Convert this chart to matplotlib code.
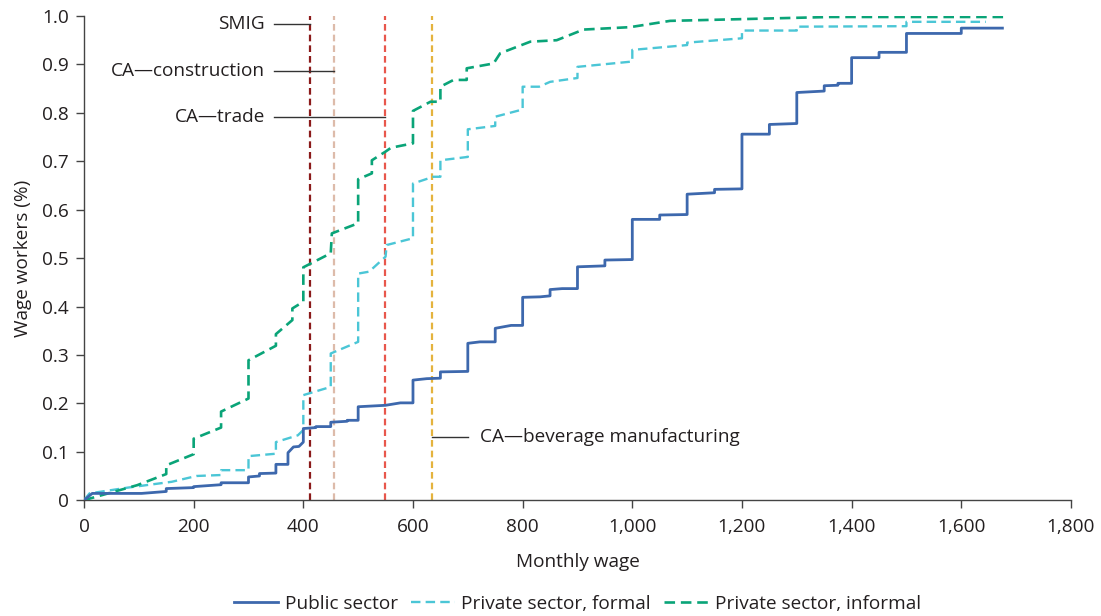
import matplotlib
matplotlib.use("Agg")
import matplotlib.pyplot as plt
from matplotlib.ticker import FuncFormatter

plt.rcParams['font.family'] = ['Open Sans', 'DejaVu Sans']

# Public sector CDF (wage, share)
public_x = [0, 15, 105, 150, 150, 200, 200, 250, 250, 300, 300, 320, 320, 350, 350, 372, 372, 382, 392, 400, 400,
            423, 423, 450, 450, 480, 480, 500, 500, 550, 577, 600, 600, 625, 650, 650, 700, 700, 722, 750, 750,
            779, 800, 800, 832, 850, 850, 872, 900, 900, 950, 950, 1000, 1000, 1050, 1050, 1100, 1100, 1150,
            1150, 1200, 1200, 1250, 1250, 1300, 1300, 1350, 1350, 1375, 1375, 1400, 1400, 1450, 1450, 1500,
            1500, 1600, 1600, 1675]
public_y = [0, 0.014, 0.014, 0.018, 0.024, 0.026, 0.028, 0.032, 0.036, 0.036, 0.048, 0.050, 0.055, 0.056, 0.074,
            0.074, 0.098, 0.110, 0.111, 0.120, 0.148, 0.150, 0.152, 0.152, 0.161, 0.163, 0.165, 0.165, 0.193,
            0.196, 0.201, 0.201, 0.248, 0.251, 0.252, 0.265, 0.266, 0.324, 0.327, 0.327, 0.355, 0.361, 0.361,
            0.419, 0.420, 0.422, 0.435, 0.437, 0.437, 0.482, 0.484, 0.496, 0.497, 0.580, 0.580, 0.589, 0.590,
            0.632, 0.635, 0.642, 0.643, 0.756, 0.756, 0.776, 0.778, 0.842, 0.845, 0.856, 0.857, 0.861, 0.861,
            0.914, 0.914, 0.925, 0.925, 0.964, 0.964, 0.975, 0.975]

# Private sector, formal
formal_x = [0, 10, 80, 160, 205, 250, 250, 300, 300, 350, 350, 390, 400, 400, 450, 450, 500, 500, 520, 550, 552,
            600, 600, 637, 650, 650, 700, 700, 750, 750, 800, 800, 830, 850, 900, 900, 1000, 1000, 1100, 1100,
            1200, 1200, 1300, 1300, 1500, 1500, 1645]
formal_y = [0, 0.014, 0.026, 0.038, 0.050, 0.052, 0.062, 0.062, 0.091, 0.096, 0.120, 0.134, 0.145, 0.217, 0.234,
            0.303, 0.327, 0.468, 0.472, 0.503, 0.527, 0.541, 0.654, 0.668, 0.668, 0.702, 0.709, 0.766, 0.773,
            0.792, 0.807, 0.854, 0.854, 0.864, 0.872, 0.895, 0.906, 0.930, 0.940, 0.945, 0.954, 0.970, 0.970,
            0.978, 0.979, 0.988, 0.988]

# Private sector, informal
informal_x = [0, 97, 150, 150, 200, 200, 250, 250, 300, 300, 350, 350, 380, 380, 400, 400, 450, 452, 500, 500,
              525, 525, 550, 560, 600, 600, 632, 650, 650, 674, 698, 698, 747, 759, 814, 862, 911, 996, 1069,
              1361, 1681]
informal_y = [0, 0.031, 0.054, 0.072, 0.095, 0.127, 0.150, 0.183, 0.210, 0.289, 0.319, 0.343, 0.372, 0.396,
              0.410, 0.481, 0.510, 0.551, 0.572, 0.663, 0.675, 0.702, 0.720, 0.728, 0.737, 0.804, 0.823, 0.823,
              0.854, 0.868, 0.868, 0.892, 0.902, 0.923, 0.947, 0.950, 0.972, 0.977, 0.990, 0.998, 0.998]

# Reference wage lines
ref_names = ["SMIG", "CA\u2014construction", "CA\u2014trade", "CA\u2014beverage manufacturing"]
ref_values = [412, 456, 549, 635]
ref_colors = ["#8B1A1A", "#DDBBAA", "#E8574C", "#E4B33E"]
label_y = [0.983, 0.887, 0.791, 0.130]

x_ticks = [0, 200, 400, 600, 800, 1000, 1200, 1400, 1600, 1800]
y_ticks = [0, 0.1, 0.2, 0.3, 0.4, 0.5, 0.6, 0.7, 0.8, 0.9, 1.0]

fig = plt.figure(figsize=(11.01, 6.16), dpi=100)
ax = fig.add_axes([0.0763, 0.188, 0.8964, 0.786])

c_pub = "#3D68AD"
c_for = "#4BC6D6"
c_inf = "#0AA478"

for xv, col in zip(ref_values, ref_colors):
    ax.axvline(xv, color=col, lw=1.6, dashes=(3, 1.8), zorder=2)

ax.plot(public_x, public_y, color=c_pub, lw=2.0, label="Public sector", zorder=4)
ax.plot(formal_x, formal_y, color=c_for, lw=1.7, dashes=(4, 2.2), label="Private sector, formal", zorder=3)
ax.plot(informal_x, informal_y, color=c_inf, lw=1.9, dashes=(4, 2.2), label="Private sector, informal", zorder=3)

# annotations
fs = 13.7
for i in range(3):
    ax.plot([347, ref_values[i]], [label_y[i], label_y[i]], color="#333333", lw=1.0, zorder=5)
    ax.text(330, label_y[i], ref_names[i], ha="right", va="center", fontsize=fs, color="#231F20")
ax.plot([ref_values[3], 700], [label_y[3], label_y[3]], color="#333333", lw=1.0, zorder=5)
ax.text(722, label_y[3], ref_names[3], ha="left", va="center", fontsize=fs, color="#231F20")

ax.set_xlim(0, 1800)
ax.set_ylim(0, 1.0)
ax.set_xticks(x_ticks)
ax.set_yticks(y_ticks)
ax.xaxis.set_major_formatter(FuncFormatter(lambda v, p: f"{int(v):,}"))
ax.yaxis.set_major_formatter(FuncFormatter(lambda v, p: "0" if v == 0 else f"{v:.1f}"))
for s in ["top", "right"]:
    ax.spines[s].set_visible(False)
for s in ["left", "bottom"]:
    ax.spines[s].set_color("#444444")
    ax.spines[s].set_linewidth(1.0)
ax.tick_params(axis="both", direction="out", length=6, width=1.0, color="#444444",
               labelsize=fs, labelcolor="#231F20")
ax.tick_params(axis="x", pad=7)
ax.tick_params(axis="y", pad=5)

ax.set_xlabel("Monthly wage", fontsize=fs, color="#231F20", labelpad=12)
ax.set_ylabel("Wage workers (%)", fontsize=fs, color="#231F20", labelpad=7)

leg = ax.legend(loc="upper center", bbox_to_anchor=(0.5, -0.16), ncol=3, frameon=False,
                fontsize=fs, handlelength=2.3, columnspacing=0.7, handletextpad=0.35)
for t in leg.get_texts():
    t.set_color("#231F20")

fig.savefig("out.png", dpi=100)
